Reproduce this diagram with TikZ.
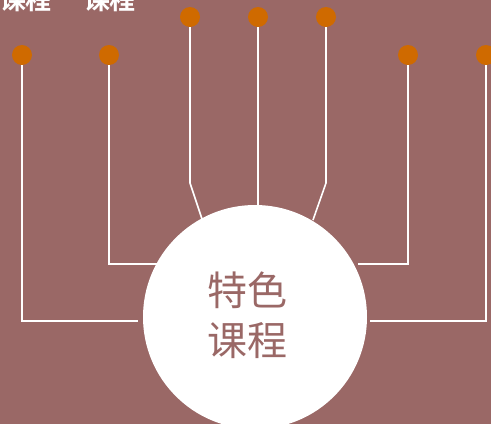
\documentclass[tikz,border=0pt]{standalone}
\usepackage{fontspec}
\newfontfamily\cjk[BoldFont={Noto Sans CJK SC Bold}]{Noto Sans CJK SC}
\definecolor{mauve}{RGB}{154,104,102}
\definecolor{amber}{RGB}{207,106,0}
\tikzset{
  dot/.style={circle,fill=amber,minimum size=20pt,inner sep=0pt},
  link/.style={draw=white,line width=1.6pt},
  tag/.style={font=\cjk\bfseries\fontsize{26}{28}\selectfont,text=white,anchor=base,inner sep=0pt},
  title/.style={font=\cjk\fontsize{40}{44}\selectfont,text=mauve,anchor=base,inner sep=0pt}
}

\begin{document}
\begin{tikzpicture}[x=1pt,y=-1pt]
  % The frame
  \useasboundingbox (0,0) rectangle (491,424);
  \clip (0,0) rectangle (491,424);
  \fill[mauve] (0,0) rectangle (491,424);
  % The centre circle
  \node[circle,fill=white,minimum size=224pt,inner sep=0pt] (core) at (255,317) {};
  \node[title] (t1) at (247.5,305) {特色};
  \node[title] (t2) at (247.5,355) {课程};
  % The dots
  \foreach \x/\y [count=\i] in {22/55,109/55,190/17,258/17,326/17,408/55,486/55}
    \node[dot] (d\i) at (\x,\y) {};
  % Ends of the lines
  \coordinate (e1) at (138,321);
  \coordinate (e2) at (158,264);
  \coordinate (b3) at (190,183);
  \coordinate (e3) at (202,219);
  \coordinate (b5) at (326,183);
  \coordinate (e5) at (313,220);
  \coordinate (e6) at (358,264);
  \coordinate (e7) at (370,321);
  % The lines
  \draw[link] (d1) |- (e1);
  \draw[link] (d2) |- (e2);
  \draw[link] (d3) -- (b3) -- (e3);
  \draw[link] (d4) -- (d4|-core.north);
  \draw[link] (d5) -- (b5) -- (e5);
  \draw[link] (d6) |- (e6);
  \draw[link] (d7) |- (e7);
  % The labels cut at the top
  \node[tag] (l1) at (26,9) {课程};
  \node[tag] (l2) at (110,9) {课程};
\end{tikzpicture}
\end{document}
